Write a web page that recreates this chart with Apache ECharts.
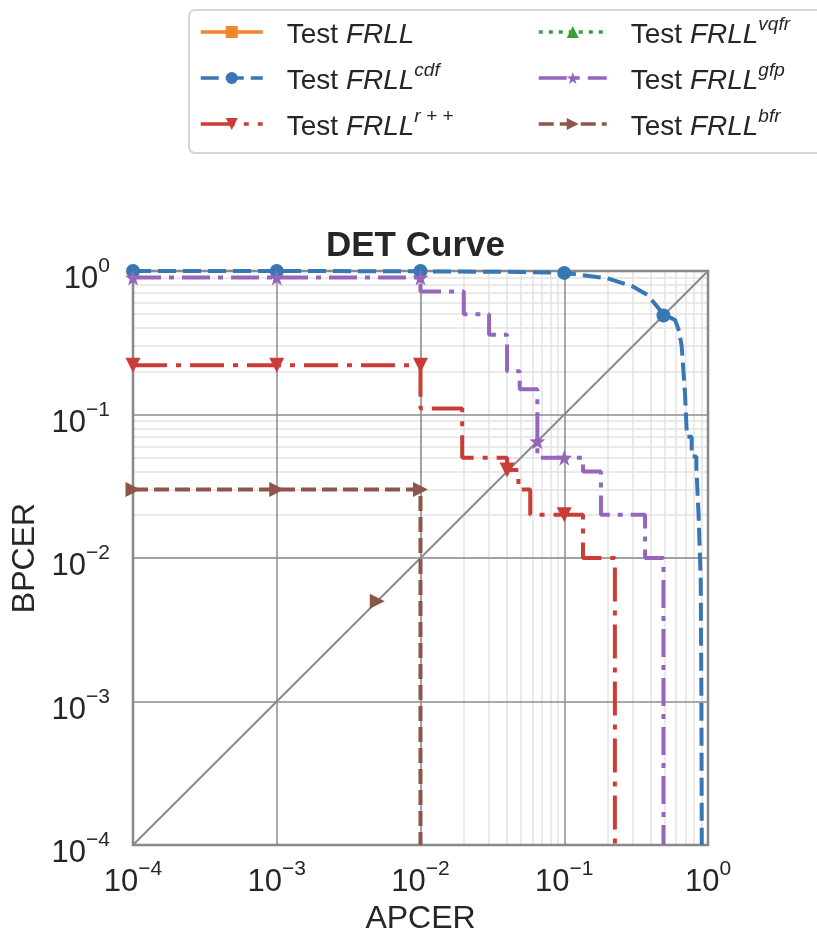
<!DOCTYPE html>
<html>
<head>
<meta charset="utf-8">
<script src="https://cdn.jsdelivr.net/npm/echarts@6/dist/echarts.min.js"></script>
<style>
  html, body { margin: 0; background: #fff; }
  #chart { width: 817px; height: 939px; }
</style>
</head>
<body>
<div id="chart"></div>
<script>
// curves, [APCER, BPCER]
var frll = [];
var cdf = [[1e-4, 1], [1e-3, 1], [0.01, 0.995], [0.05, 0.985], [0.1, 0.97], [0.2, 0.89], [0.3, 0.78],
  [0.38, 0.68], [0.49, 0.5], [0.59, 0.456], [0.63, 0.38], [0.656, 0.3], [0.692, 0.14], [0.71, 0.078],
  [0.71, 0.07], [0.77, 0.07], [0.77, 0.051], [0.83, 0.051], [0.83, 0.043], [0.86, 0.02], [0.89, 0.007],
  [0.9, 0.001], [0.905, 1e-4]];
var rpp = [[1e-4, 0.22], [1e-3, 0.22], [0.01, 0.22], [0.01, 0.11], [0.0195, 0.11], [0.0195, 0.05],
  [0.04, 0.05], [0.04, 0.041], [0.048, 0.041], [0.048, 0.03], [0.058, 0.03], [0.058, 0.02], [0.135, 0.02],
  [0.135, 0.01], [0.225, 0.01], [0.225, 1e-4]];
var vqfr = [];
var gfp = [[1e-4, 0.9], [1e-3, 0.9], [0.01, 0.9], [0.01, 0.72], [0.02, 0.72], [0.02, 0.5], [0.03, 0.5],
  [0.03, 0.36], [0.04, 0.36], [0.04, 0.2], [0.049, 0.2], [0.049, 0.15], [0.065, 0.15], [0.065, 0.05],
  [0.135, 0.05], [0.135, 0.04], [0.18, 0.04], [0.18, 0.02], [0.365, 0.02], [0.365, 0.01], [0.49, 0.01],
  [0.49, 1e-4]];
var bfr = [[1e-4, 0.03], [1e-3, 0.03], [0.01, 0.03], [0.01, 1e-4]];

// marker points
var cdfMarks = [[1e-4, 1], [1e-3, 1], [1e-2, 1], [0.1, 0.97], [0.49, 0.49]];
var rppMarks = [[1e-4, 0.22], [1e-3, 0.22], [1e-2, 0.22], [0.04, 0.041], [0.1, 0.02]];
var gfpMarks = [[1e-4, 0.9], [1e-3, 0.9], [1e-2, 0.9], [0.065, 0.065], [0.1, 0.05]];
var bfrMarks = [[1e-4, 0.03], [1e-3, 0.03], [1e-2, 0.03], [0.005, 0.005]];

var diagonal = [[1e-4, 1e-4], [1, 1]];

var legendSup = { 'FRLL': '', 'cdf': 'cdf', 'r++': 'r + +', 'vqfr': 'vqfr', 'gfp': 'gfp', 'bfr': 'bfr' };

// minor log grid lines 2..9 x 10^d
var minorTicks = [];
for (var d = -4; d < 0; d++) {
  for (var m = 2; m <= 9; m++) minorTicks.push(m * Math.pow(10, d));
}

var star = 'path://M0,-10L2.35,-3.24L9.51,-3.09L3.8,1.24L5.88,8.09L0,4L-5.88,8.09L-3.8,1.24L-9.51,-3.09L-2.35,-3.24Z';
var font = 'Liberation Sans, Arial, sans-serif';

function tickLabel(v) {
  var e = Math.round(Math.log10(v));
  return '{b|10}{e|' + (e < 0 ? '\u2212' + (-e) : e) + '}';
}
var tickRich = {
  b: { fontSize: 31, lineHeight: 30, padding: [17, 0, 0, 0], color: '#262626', fontFamily: font },
  e: { fontSize: 21, lineHeight: 20, verticalAlign: 'top', color: '#262626', fontFamily: font }
};

function legendText(name) {
  var s = legendSup[name];
  return '{t|Test }{i|FRLL}' + (s ? '{s|' + s + '}' : '');
}
var legendRich = {
  t: { fontSize: 28, lineHeight: 34, padding: [6, 0, 0, 19], color: '#262626', fontFamily: font },
  i: { fontSize: 28, lineHeight: 34, padding: [6, 0, 0, 0], fontStyle: 'italic', color: '#262626', fontFamily: font },
  s: { fontSize: 19, lineHeight: 20, verticalAlign: 'top', fontStyle: 'italic', color: '#262626', fontFamily: font }
};

function curve(name, data, color, dash, symbol, rotate) {
  return {
    name: name, type: 'line', data: data, clip: false, z: 3,
    symbol: symbol, symbolRotate: rotate || 0, showSymbol: false,
    itemStyle: { color: color },
    lineStyle: { color: color, width: 4, type: dash },
    emphasis: { disabled: true }, animation: false
  };
}
function marks(data, color, symbol, size, rotate) {
  return {
    type: 'scatter', data: data, clip: false, z: 4,
    symbol: symbol, symbolSize: size, symbolRotate: rotate || 0,
    itemStyle: { color: color, opacity: 1 },
    emphasis: { disabled: true }, animation: false
  };
}

var chart = echarts.init(document.getElementById('chart'));

chart.setOption({
  animation: false,
  textStyle: { fontFamily: font },
  title: {
    text: 'DET Curve', left: 326, top: 229, padding: 0,
    textStyle: { fontSize: 35, fontWeight: 'bold', color: '#262626', fontFamily: font }
  },
  graphic: [{
    type: 'rect', shape: { x: 189, y: 10, width: 650, height: 143, r: 6 },
    style: { fill: '#fff', stroke: '#d6d6d6', lineWidth: 2 }, z: -1
  }],
  legend: [{
    data: ['FRLL', 'cdf', 'r++'], orient: 'vertical', left: 199, top: 15, padding: 0,
    itemWidth: 62, itemHeight: 15, itemGap: 12,
    lineStyle: { width: 3.5 },
    formatter: legendText, textStyle: { rich: legendRich }
  }, {
    data: ['vqfr', 'gfp', 'bfr'], orient: 'vertical', left: 537, top: 15, padding: 0,
    itemWidth: 68, itemHeight: 15, itemGap: 12,
    lineStyle: { width: 3.5 },
    formatter: legendText, textStyle: { rich: legendRich }
  }],
  grid: {
    left: 133, right: 109, top: 271, bottom: 94, show: true, z: 1,
    outerBoundsMode: 'none', containLabel: false,
    borderColor: '#808080', borderWidth: 2.5, backgroundColor: 'transparent'
  },
  xAxis: {
    type: 'log', logBase: 10, min: 1e-4, max: 1, splitNumber: 4, z: 1,
    name: 'APCER', nameLocation: 'middle', nameGap: 56,
    nameTextStyle: { fontSize: 32, color: '#262626', fontFamily: font },
    axisLine: { show: false }, axisTick: { show: false },
    axisLabel: { formatter: tickLabel, rich: tickRich, margin: 14 },
    splitLine: { show: true, lineStyle: { color: '#8c8c8c', width: 1.5 } }
  },
  yAxis: {
    type: 'log', logBase: 10, min: 1e-4, max: 1, splitNumber: 4, z: 1,
    name: 'BPCER', nameLocation: 'middle', nameGap: 92, nameRotate: 90,
    nameTextStyle: { fontSize: 32, color: '#262626', fontFamily: font },
    axisLine: { show: false }, axisTick: { show: false },
    axisLabel: { formatter: tickLabel, rich: tickRich, margin: 23 },
    splitLine: { show: true, lineStyle: { color: '#8c8c8c', width: 1.5 } }
  },
  series: [
    {
      type: 'line', data: diagonal, z: 2, symbol: 'none', clip: false,
      lineStyle: { color: '#8a8a8a', width: 2 }, emphasis: { disabled: true },
      markLine: {
        silent: true, symbol: 'none', z: 0, animation: false, label: { show: false },
        lineStyle: { color: '#e3e3e3', width: 1.5, type: 'solid' },
        data: minorTicks.map(function (v) { return { xAxis: v }; })
          .concat(minorTicks.map(function (v) { return { yAxis: v }; }))
      }
    },
    curve('FRLL', frll, '#f0862e', 'solid', 'rect'),
    curve('cdf', cdf, '#3777b3', [18, 7], 'circle'),
    curve('r++', rpp, '#cc3c36', [34, 9, 5, 9], 'triangle', 180),
    curve('vqfr', vqfr, '#3a9e3a', [4, 6], 'triangle'),
    curve('gfp', gfp, '#9467bd', [28, 8, 5, 8], star),
    curve('bfr', bfr, '#8c564b', [15, 6], 'triangle', -90),
    marks(cdfMarks, '#3777b3', 'circle', 14),
    marks(rppMarks, '#cc3c36', 'triangle', 15, 180),
    marks(gfpMarks, '#9467bd', star, 16),
    marks(bfrMarks, '#8c564b', 'triangle', 15, -90)
  ]
});
</script>
</body>
</html>
